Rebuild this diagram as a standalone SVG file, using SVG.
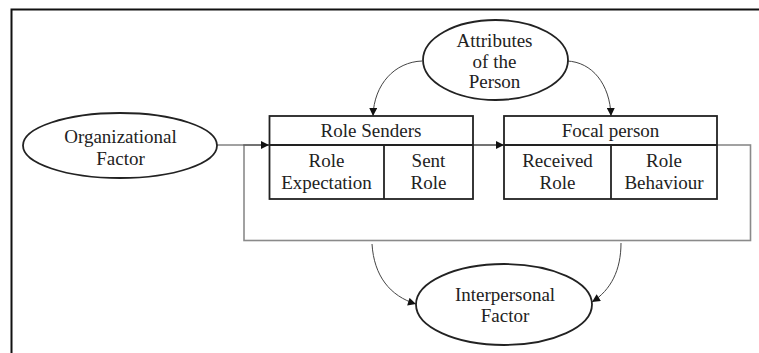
<svg xmlns="http://www.w3.org/2000/svg" width="759" height="353" viewBox="0 0 759 353">
  <defs>
    <marker id="arrow" viewBox="0 0 10 10" refX="10" refY="5" markerWidth="9" markerHeight="8" markerUnits="userSpaceOnUse" orient="auto">
      <path d="M0,0 L10,5 L0,10 z" fill="#111"/>
    </marker>
    <style>
      text { font-family: "Liberation Serif", "Times New Roman", serif; font-size: 19px; fill: #222; text-anchor: middle; }
      .oval { fill: #fff; stroke: #222; stroke-width: 1.8; }
      .box { fill: none; stroke: #222; stroke-width: 1.8; }
      .frame { fill: none; stroke: #111; stroke-width: 2; }
      .loop { fill: none; stroke: #8a8a8a; stroke-width: 1.6; }
      .link { fill: none; stroke: #444; stroke-width: 1; marker-end: url(#arrow); }
    </style>
  </defs>

  <rect width="759" height="353" fill="#fff"/>

  <!-- page frame -->
  <path class="frame" d="M11.5,353 V9.5 H759"/>

  <!-- feedback loop around the role boxes -->
  <rect class="loop" x="244" y="145" width="506.5" height="95.5"/>

  <g id="connectors">
    <path class="link" d="M217,145 H269"/>
    <path class="link" d="M473,145 H504"/>
    <path class="link" d="M422,61 C395,62 374,84 373,116"/>
    <path class="link" d="M567,61 C592,62 610,84 611,116"/>
    <path class="link" d="M372,244 C374,276 390,296 416,304"/>
    <path class="link" d="M621,243 C621,270 611,290 592,302"/>
  </g>

  <g id="organizational-factor">
    <ellipse class="oval" cx="120" cy="145.5" rx="97" ry="32.5"/>
    <text x="120.5" y="143">Organizational</text>
    <text x="120.5" y="165">Factor</text>
  </g>

  <g id="attributes-of-the-person">
    <ellipse class="oval" cx="495.5" cy="60" rx="72.5" ry="40"/>
    <text x="494.5" y="47">Attributes</text>
    <text x="494.5" y="68">of the</text>
    <text x="494.5" y="88">Person</text>
  </g>

  <g id="role-senders">
    <rect class="box" x="269.5" y="116" width="203.5" height="83"/>
    <line class="box" x1="269.5" y1="145" x2="473" y2="145"/>
    <line class="box" x1="384" y1="145" x2="384" y2="199"/>
    <text x="371" y="137">Role Senders</text>
    <text x="326.5" y="167">Role</text>
    <text x="326.5" y="189">Expectation</text>
    <text x="428.5" y="167">Sent</text>
    <text x="428.5" y="189">Role</text>
  </g>

  <g id="focal-person">
    <rect class="box" x="504" y="116" width="213" height="83"/>
    <line class="box" x1="504" y1="145" x2="717" y2="145"/>
    <line class="box" x1="611" y1="145" x2="611" y2="199"/>
    <text x="610.5" y="137">Focal person</text>
    <text x="557.5" y="167">Received</text>
    <text x="557.5" y="189">Role</text>
    <text x="664" y="167">Role</text>
    <text x="664" y="189">Behaviour</text>
  </g>

  <g id="interpersonal-factor">
    <ellipse class="oval" cx="504" cy="304.5" rx="88" ry="40.5"/>
    <text x="505" y="301">Interpersonal</text>
    <text x="505" y="322">Factor</text>
  </g>
</svg>
